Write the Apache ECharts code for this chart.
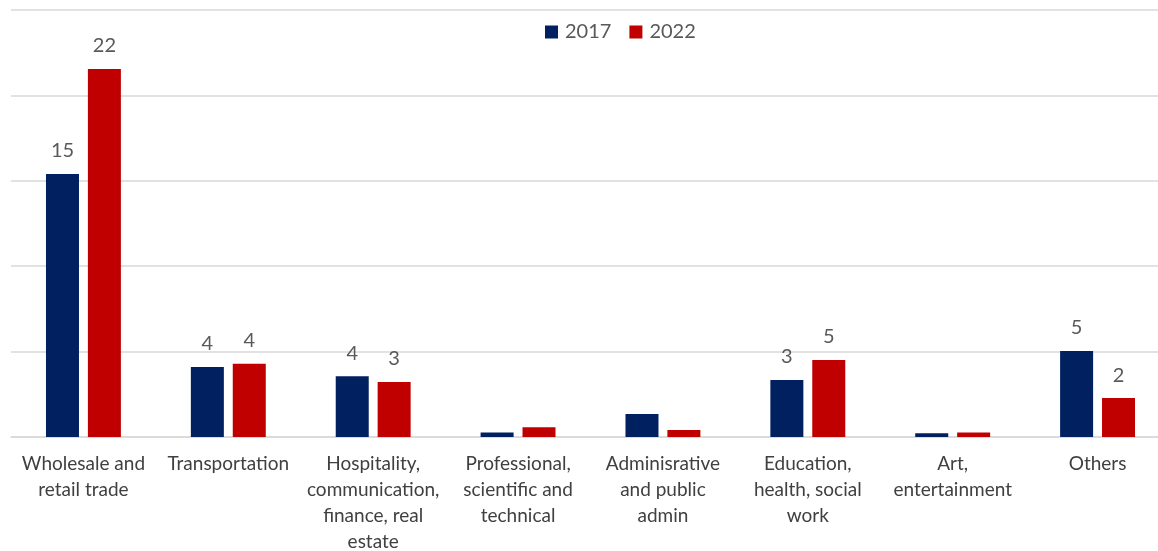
<!DOCTYPE html>
<html>
<head>
<meta charset="utf-8">
<script src="https://cdn.jsdelivr.net/npm/echarts@6/dist/echarts.min.js"></script>
<style>
  html, body { margin: 0; padding: 0; background: #ffffff; }
  #chart { width: 1158px; height: 551px; }
</style>
</head>
<body>
<div id="chart"></div>
<script>
// Sector categories (line breaks as shown under the axis)
const categories = [
  'Wholesale and\nretail trade',
  'Transportation',
  'Hospitality,\ncommunication,\nfinance, real\nestate',
  'Professional,\nscientific and\ntechnical',
  'Adminisrative\nand public\nadmin',
  'Education,\nhealth, social\nwork',
  'Art,\nentertainment',
  'Others'
];

const values2017 = [15.4, 4.1, 3.55, 0.26, 1.35, 3.34, 0.22, 5.04];
const values2022 = [21.55, 4.29, 3.22, 0.57, 0.41, 4.51, 0.26, 2.28];

// Which categories carry a value label
const labelled = [true, true, true, false, false, true, false, true];

const yTicks = [0, 5, 10, 15, 20, 25];

const FONT = 'Lato';
const TEXT = '#595959';

function seriesData(vals) {
  return vals.map((v, i) => ({
    value: v,
    label: { show: labelled[i] }
  }));
}

const barLabel = {
  position: 'top',
  distance: 13,
  color: TEXT,
  fontFamily: FONT,
  fontSize: 20,
  formatter: p => Math.round(p.value)
};

const chart = echarts.init(document.getElementById('chart'), null, { renderer: 'canvas' });
chart.setOption({
  animation: false,
  textStyle: { fontFamily: FONT },
  legend: {
    top: 17,
    left: 540,
    itemWidth: 13,
    itemHeight: 13,
    itemGap: 18,
    icon: 'rect',
    textStyle: { color: TEXT, fontFamily: FONT, fontSize: 20, padding: [0, 0, 0, 2] },
    data: ['2017', '2022']
  },
  grid: {
    left: 11, top: 10, width: 1159, height: 427,
    containLabel: false,
    outerBoundsMode: 'none'
  },
  xAxis: {
    type: 'category',
    data: categories,
    axisLine: { lineStyle: { color: '#d9d9d9', width: 1.5 } },
    axisTick: { show: false },
    axisLabel: {
      interval: 0,
      color: '#404040',
      fontFamily: FONT,
      fontSize: 19,
      lineHeight: 26,
      margin: 14
    }
  },
  yAxis: {
    type: 'value',
    min: yTicks[0],
    max: yTicks[yTicks.length - 1],
    interval: yTicks[1] - yTicks[0],
    axisLabel: { show: false },
    axisLine: { show: false },
    axisTick: { show: false },
    splitLine: { lineStyle: { color: '#d9d9d9', width: 1.5 } }
  },
  series: [
    {
      name: '2017',
      type: 'bar',
      data: seriesData(values2017),
      barWidth: 33,
      barGap: '27%',
      itemStyle: { color: '#002060' },
      label: barLabel
    },
    {
      name: '2022',
      type: 'bar',
      data: seriesData(values2022),
      barWidth: 33,
      barGap: '27%',
      itemStyle: { color: '#C00000' },
      label: barLabel
    }
  ]
});
</script>
</body>
</html>
